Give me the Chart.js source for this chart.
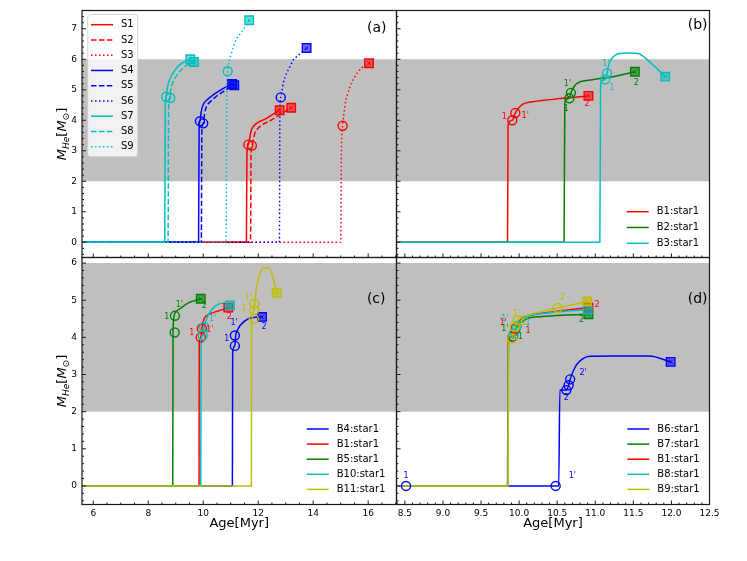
<!DOCTYPE html>
<html>
<head>
<meta charset="utf-8">
<title>Helium core mass vs age</title>
<script src="https://cdn.jsdelivr.net/npm/chart.js@4.4.1/dist/chart.umd.min.js"></script>
<style>
  html, body { margin: 0; padding: 0; background: #fff; }
  #fig { position: relative; width: 747px; height: 561px; }
  #fig canvas { position: absolute; left: 0; top: 0; }
</style>
</head>
<body>
<div id="fig">
  <canvas id="pa" width="747" height="561"></canvas>
  <canvas id="pb" width="747" height="561"></canvas>
  <canvas id="pc" width="747" height="561"></canvas>
  <canvas id="pd" width="747" height="561"></canvas>
</div>
<script>
// ---------- colours (matplotlib single-letter colours) ----------
const RED = '#ff0000', BLUE = '#0000ff', GREEN = '#008000', CYAN = '#00bfbf', OLIVE = '#bfbf00';
const INK = '#1a1a1a';
const BAND_COLOR = '#bfbfbf';
const DASHED = [5.5, 2.4], DOTTED = [1.5, 2.5];

// ---------- axes / ticks ----------
const X_TICKS_LEFT = [6, 8, 10, 12, 14, 16];
const X_TICKS_RIGHT = [8.5, 9.0, 9.5, 10.0, 10.5, 11.0, 11.5, 12.0, 12.5];
const Y_TICKS_TOP = [0, 1, 2, 3, 4, 5, 6, 7];
const Y_TICKS_BOTTOM = [0, 1, 2, 3, 4, 5, 6];
const BAND_MHE = [2, 6];   // grey band in M_He

// ---------- panel (a): single stars ----------
const S1_AGE = [5.5, 11.57, 11.59, 11.64, 11.70, 11.74, 11.80, 12.30, 12.78];
const S1_MHE = [0, 0, 2.90, 3.20, 3.45, 3.65, 3.77, 4.06, 4.33];
const S2_AGE = [5.5, 11.72, 11.74, 11.77, 11.83, 11.88, 11.93, 12.50, 13.20];
const S2_MHE = [0, 0, 2.90, 3.17, 3.40, 3.58, 3.67, 4.02, 4.41];
const S3_AGE = [5.5, 15.00, 15.03, 15.07, 15.15, 15.34, 15.64, 15.85, 16.03];
const S3_MHE = [0, 0, 3.20, 3.82, 4.45, 5.10, 5.59, 5.78, 5.87];
const S4_AGE = [5.5, 9.83, 9.85, 9.88, 9.93, 10.00, 10.15, 10.36, 10.70, 11.05];
const S4_MHE = [0, 0, 3.70, 3.97, 4.30, 4.52, 4.68, 4.83, 5.03, 5.19];
const S5_AGE = [5.5, 9.93, 9.95, 10.00, 10.05, 10.12, 10.27, 10.47, 10.80, 11.13];
const S5_MHE = [0, 0, 3.65, 3.90, 4.22, 4.45, 4.62, 4.78, 4.98, 5.15];
const S6_AGE = [5.5, 12.77, 12.79, 12.82, 12.91, 13.03, 13.15, 13.27, 13.46, 13.76];
const S6_MHE = [0, 0, 4.40, 4.75, 5.21, 5.54, 5.75, 5.97, 6.13, 6.37];
const S7_AGE = [5.5, 8.60, 8.62, 8.65, 8.69, 8.74, 8.85, 8.97, 9.12, 9.27, 9.53];
const S7_MHE = [0, 0, 4.50, 4.77, 5.05, 5.25, 5.47, 5.64, 5.80, 5.90, 6.00];
const S8_AGE = [5.5, 8.72, 8.74, 8.78, 8.82, 8.87, 8.98, 9.10, 9.25, 9.40, 9.66];
const S8_MHE = [0, 0, 4.45, 4.74, 5.00, 5.18, 5.38, 5.55, 5.70, 5.80, 5.92];
const S9_AGE = [5.5, 10.83, 10.86, 10.89, 10.93, 11.00, 11.09, 11.22, 11.40, 11.53, 11.67];
const S9_MHE = [0, 0, 5.20, 5.61, 5.90, 6.12, 6.40, 6.68, 6.90, 7.08, 7.28];

const S1_RINGS = [[11.64, 3.20]], S1_END = [12.78, 4.33];
const S2_RINGS = [[11.77, 3.17]], S2_END = [13.20, 4.41];
const S3_RINGS = [[15.07, 3.82]], S3_END = [16.03, 5.87];
const S4_RINGS = [[9.88, 3.97]],  S4_END = [11.05, 5.19];
const S5_RINGS = [[10.00, 3.90]], S5_END = [11.13, 5.15];
const S6_RINGS = [[12.82, 4.75]], S6_END = [13.76, 6.37];
const S7_RINGS = [[8.65, 4.77]],  S7_END = [9.53, 6.00];
const S8_RINGS = [[8.80, 4.73]],  S8_END = [9.66, 5.91];
const S9_RINGS = [[10.89, 5.61]], S9_END = [11.67, 7.28];

// ---------- binaries, star1 ----------
const B1_AGE = [5.5, 9.848, 9.855, 9.91, 9.95, 10.00, 10.05, 10.18, 10.58, 10.91];
const B1_MHE = [0, 0, 3.85, 4.00, 4.24, 4.42, 4.53, 4.61, 4.72, 4.80];
const B2_AGE = [5.5, 10.59, 10.60, 10.66, 10.68, 10.72, 10.76, 10.93, 11.23, 11.52];
const B2_MHE = [0, 0, 4.60, 4.72, 4.90, 5.10, 5.21, 5.32, 5.43, 5.59];
const B3_AGE = [5.5, 11.06, 11.07, 11.13, 11.155, 11.17, 11.19, 11.26, 11.32, 11.45, 11.56, 11.76, 11.92];
const B3_MHE = [0, 0, 5.20, 5.34, 5.54, 5.75, 5.92, 6.13, 6.19, 6.21, 6.19, 5.81, 5.43];
const B4_AGE = [5.5, 11.06, 11.07, 11.15, 11.18, 11.25, 11.34, 11.64, 11.90, 12.14];
const B4_MHE = [0, 0, 3.60, 3.77, 4.05, 4.20, 4.32, 4.50, 4.54, 4.55];
const B5_AGE = [5.5, 8.89, 8.90, 8.91, 8.94, 9.00, 9.15, 9.46, 9.91];
const B5_MHE = [0, 0, 3.90, 4.35, 4.58, 4.68, 4.77, 4.93, 5.04];
const B6_AGE = [8.515, 10.48, 10.52, 10.535, 10.62, 10.65, 10.67, 10.75, 10.84, 10.93, 11.20, 11.71, 11.99];
const B6_MHE = [0, 0, 0, 2.58, 2.58, 2.71, 2.87, 3.25, 3.43, 3.49, 3.50, 3.50, 3.34];
const B7_AGE = [5.5, 9.85, 9.86, 9.92, 9.95, 9.98, 10.05, 10.10, 10.30, 10.60, 10.91];
const B7_MHE = [0, 0, 3.90, 4.00, 4.18, 4.32, 4.43, 4.50, 4.56, 4.60, 4.62];
const B8_AGE = [5.5, 9.85, 9.86, 9.93, 9.97, 10.02, 10.10, 10.30, 10.60, 10.90];
const B8_MHE = [0, 0, 3.90, 4.10, 4.30, 4.45, 4.56, 4.64, 4.70, 4.74];
const B9_AGE = [5.5, 9.856, 9.86, 9.91, 9.944, 9.98, 10.10, 10.30, 10.504, 10.70, 10.893];
const B9_MHE = [0, 0, 3.90, 3.98, 4.28, 4.46, 4.59, 4.70, 4.79, 4.88, 4.97];
const B10_AGE = [5.5, 9.91, 9.92, 9.98, 10.03, 10.10, 10.24, 10.45, 10.70, 10.99];
const B10_MHE = [0, 0, 3.80, 4.05, 4.28, 4.45, 4.68, 4.85, 4.92, 4.86];
const B11_AGE = [5.5, 11.75, 11.76, 11.80, 11.84, 11.88, 11.94, 12.06, 12.21, 12.40, 12.55, 12.67];
const B11_MHE = [0, 0, 4.40, 4.55, 4.74, 4.95, 5.35, 5.71, 5.87, 5.87, 5.58, 5.20];

const B1_RINGS = [[9.91, 4.00], [9.95, 4.24]],    B1_END = [10.91, 4.80];
const B2_RINGS = [[10.66, 4.72], [10.68, 4.90]],  B2_END = [11.52, 5.59];
const B3_RINGS = [[11.13, 5.34], [11.155, 5.54]], B3_END = [11.92, 5.43];
const B4_RINGS = [[11.15, 3.77], [11.15, 4.05]],  B4_END = [12.14, 4.55];
const B5_RINGS = [[8.96, 4.13], [8.97, 4.58]],    B5_END = [9.91, 5.04];
const B6_RINGS = [[8.515, 0], [10.48, 0], [10.62, 2.58], [10.65, 2.71], [10.67, 2.87]], B6_END = [11.99, 3.34];
const B7_RINGS = [[9.92, 4.02], [9.95, 4.22]],    B7_END = [10.91, 4.62];
const B8_RINGS = [[9.93, 4.10], [9.97, 4.30]],    B8_END = [10.90, 4.74];
const B9_RINGS = [[9.91, 3.98], [9.944, 4.28], [9.98, 4.46], [10.504, 4.79]], B9_END = [10.893, 4.97];
const B10_RINGS = [[9.98, 4.05], [10.03, 4.28]],  B10_END = [10.97, 4.86];
const B11_RINGS = [[11.84, 4.50], [11.86, 4.74], [11.86, 4.90]], B11_END = [12.67, 5.20];

// ---------- phase labels (text, age, M_He, colour) ----------
const NOTES_B = [
  ['1', 9.804, 4.12, RED], ["1'", 10.08, 4.15, RED], ['2', 10.892, 4.535, RED],
  ['1', 10.62, 4.37, GREEN], ["1'", 10.635, 5.19, GREEN], ['2', 11.54, 5.24, GREEN],
  ["1'", 11.138, 5.86, CYAN], ['1', 11.22, 5.07, CYAN]
];
const NOTES_C = [
  ['1', 10.86, 3.95, BLUE], ["1'", 11.12, 4.38, BLUE], ['2', 12.21, 4.27, BLUE],
  ['1', 9.58, 4.13, RED], ["1'", 10.24, 4.19, RED], ['2', 10.95, 4.545, RED],
  ["1'", 10.34, 4.50, CYAN],
  ['1', 8.67, 4.55, GREEN], ["1'", 9.13, 4.88, GREEN], ['2', 10.04, 4.84, GREEN],
  ["1'", 11.64, 5.07, OLIVE], ['1', 11.48, 4.76, OLIVE]
];
const NOTES_D = [
  ['1', 8.515, 0.27, BLUE], ["1'", 10.70, 0.27, BLUE], ['2', 10.62, 2.37, BLUE], ["2'", 10.84, 3.04, BLUE],
  ['2', 10.57, 5.055, OLIVE], ['2', 11.023, 4.86, RED], ['2', 10.819, 4.456, GREEN],
  ["1'", 9.966, 4.636, OLIVE], ["1'", 9.813, 4.502, CYAN], ["1'", 9.79, 4.395, RED], ["1'", 9.813, 4.234, GREEN],
  ['1', 10.066, 4.395, OLIVE], ['1', 10.118, 4.395, CYAN], ['1', 10.118, 4.17, RED], ['1', 10.019, 4.01, GREEN]
];

Chart.defaults.font.family = '"DejaVu Sans", sans-serif';
Chart.defaults.color = '#000';

function withAlpha(hex, a) {
  const n = parseInt(hex.slice(1), 16);
  return `rgba(${(n >> 16) & 255}, ${(n >> 8) & 255}, ${n & 255}, ${a})`;
}
const pts = list => list.map(p => ({ x: p[0], y: p[1] }));

// one track -> line dataset + marker datasets
function track(label, age, mhe, color, dash, rings, end) {
  return { label, age, mhe, color, dash: dash || [], rings, end };
}
function buildDatasets(tracks) {
  const sets = [];
  tracks.forEach((t, i) => {
    sets.push({
      label: t.label, order: 100 - i,
      data: t.age.map((a, k) => ({ x: a, y: t.mhe[k] })),
      borderColor: t.color, borderWidth: 1.5, borderDash: t.dash,
      pointRadius: 0, fill: false, cubicInterpolationMode: 'monotone', clip: 0
    });
  });
  tracks.forEach((t, i) => {
    sets.push({
      order: 50 - 3 * i, showLine: false, data: pts(t.rings),
      pointStyle: 'circle', pointRadius: 4.5, pointBorderWidth: 1.4,
      pointBorderColor: t.color, pointBackgroundColor: 'rgba(255,255,255,0)'
    });
    sets.push({
      order: 49 - 3 * i, showLine: false, data: pts([t.end]),
      pointStyle: 'rect', pointRadius: 6, pointBorderWidth: 1.4,
      pointBorderColor: t.color, pointBackgroundColor: withAlpha(t.color, 0.55)
    });
    sets.push({
      order: 48 - 3 * i, showLine: false, data: pts([t.end]),
      pointStyle: 'crossRot', pointRadius: 2.6, pointBorderWidth: 1,
      pointBorderColor: t.color
    });
  });
  return sets;
}

function minorTicks(min, max, step, majors) {
  const out = [];
  for (let k = Math.ceil(min / step - 1e-9); k * step <= max + 1e-9; k++) {
    const v = +(k * step).toFixed(6);
    if (!majors.some(m => Math.abs(m - v) < 1e-6)) out.push(v);
  }
  return out;
}

// panel layout (figure pixels: left column 82..396.5, right 396.5..709.5, rows 10.5..257.5..504.5)
const PANELS = {
  pa: {
    xMin: 5.59, xMax: 17.03, yMin: -0.5, yMax: 7.6, xMajor: X_TICKS_LEFT, xMinor: 0.5, yMajor: Y_TICKS_TOP, yMinor: 0.2,
    xLabels: false, yLabels: true, pad: { left: 0, top: 10.5, right: 350.5, bottom: 303.5 }, xAxisH: 0, yAxisW: 82,
    tag: '(a)', tagDx: -10, tagDy: 18, yTitle: true,
    key: { x: 91, y: 24.7, dy: 15.25, box: [87.7, 14.5, 50, 142.2] }, notes: [],
    tracks: [
      track('S1', S1_AGE, S1_MHE, RED, null, S1_RINGS, S1_END),
      track('S2', S2_AGE, S2_MHE, RED, DASHED, S2_RINGS, S2_END),
      track('S3', S3_AGE, S3_MHE, RED, DOTTED, S3_RINGS, S3_END),
      track('S4', S4_AGE, S4_MHE, BLUE, null, S4_RINGS, S4_END),
      track('S5', S5_AGE, S5_MHE, BLUE, DASHED, S5_RINGS, S5_END),
      track('S6', S6_AGE, S6_MHE, BLUE, DOTTED, S6_RINGS, S6_END),
      track('S7', S7_AGE, S7_MHE, CYAN, null, S7_RINGS, S7_END),
      track('S8', S8_AGE, S8_MHE, CYAN, DASHED, S8_RINGS, S8_END),
      track('S9', S9_AGE, S9_MHE, CYAN, DOTTED, S9_RINGS, S9_END)
    ]
  },
  pb: {
    xMin: 8.39, xMax: 12.5, yMin: -0.5, yMax: 7.6, xMajor: X_TICKS_RIGHT, xMinor: 0.1, yMajor: Y_TICKS_TOP, yMinor: 0.2,
    xLabels: false, yLabels: false, pad: { left: 396.5, top: 10.5, right: 37.5, bottom: 303.5 }, xAxisH: 0, yAxisW: 0,
    tag: '(b)', tagDx: -2, tagDy: 14.5, yTitle: false,
    key: { x: 626.7, y: 211.7, dy: 15.8 }, notes: NOTES_B,
    tracks: [
      track('B1:star1', B1_AGE, B1_MHE, RED, null, B1_RINGS, B1_END),
      track('B2:star1', B2_AGE, B2_MHE, GREEN, null, B2_RINGS, B2_END),
      track('B3:star1', B3_AGE, B3_MHE, CYAN, null, B3_RINGS, B3_END)
    ]
  },
  pc: {
    xMin: 5.59, xMax: 17.03, yMin: -0.5, yMax: 6.15, xMajor: X_TICKS_LEFT, xMinor: 0.5, yMajor: Y_TICKS_BOTTOM, yMinor: 0.2,
    xLabels: true, yLabels: true, pad: { left: 0, top: 257.5, right: 350.5, bottom: 29.5 }, xAxisH: 27, yAxisW: 82,
    tag: '(c)', tagDx: -11, tagDy: 42, yTitle: true,
    key: { x: 306.7, y: 429, dy: 15.1 }, notes: NOTES_C,
    tracks: [
      track('B4:star1', B4_AGE, B4_MHE, BLUE, null, B4_RINGS, B4_END),
      track('B1:star1', B1_AGE, B1_MHE, RED, null, B1_RINGS, B1_END),
      track('B5:star1', B5_AGE, B5_MHE, GREEN, null, B5_RINGS, B5_END),
      track('B10:star1', B10_AGE, B10_MHE, CYAN, null, B10_RINGS, B10_END),
      track('B11:star1', B11_AGE, B11_MHE, OLIVE, null, B11_RINGS, B11_END)
    ]
  },
  pd: {
    xMin: 8.39, xMax: 12.5, yMin: -0.5, yMax: 6.15, xMajor: X_TICKS_RIGHT, xMinor: 0.1, yMajor: Y_TICKS_BOTTOM, yMinor: 0.2,
    xLabels: true, yLabels: false, pad: { left: 396.5, top: 257.5, right: 37.5, bottom: 29.5 }, xAxisH: 27, yAxisW: 0,
    tag: '(d)', tagDx: -2, tagDy: 42, yTitle: false,
    key: { x: 627.3, y: 429, dy: 15.1 }, notes: NOTES_D,
    tracks: [
      track('B6:star1', B6_AGE, B6_MHE, BLUE, null, B6_RINGS, B6_END),
      track('B7:star1', B7_AGE, B7_MHE, GREEN, null, B7_RINGS, B7_END),
      track('B1:star1', B1_AGE, B1_MHE, RED, null, B1_RINGS, B1_END),
      track('B8:star1', B8_AGE, B8_MHE, CYAN, null, B8_RINGS, B8_END),
      track('B9:star1', B9_AGE, B9_MHE, OLIVE, null, B9_RINGS, B9_END)
    ]
  }
};

// grey band behind the tracks
const bandPlugin = {
  id: 'band',
  beforeDatasetsDraw(chart) {
    const { ctx, chartArea: a, scales: { y } } = chart;
    const top = y.getPixelForValue(BAND_MHE[1]), bot = y.getPixelForValue(BAND_MHE[0]);
    ctx.save();
    ctx.fillStyle = BAND_COLOR;
    ctx.fillRect(a.left, top, a.right - a.left, bot - top);
    ctx.restore();
  }
};

// M_He[M_sun] with italic letters and subscripts
function drawMassTitle(ctx, cx, cy) {
  const parts = [
    ['M', 'italic 13px "DejaVu Sans"', 0], ['He', 'italic 9px "DejaVu Sans"', 3],
    ['[', '13px "DejaVu Sans"', 0], ['M', 'italic 13px "DejaVu Sans"', 0],
    ['\u2299', '9px "DejaVu Sans"', 3], [']', '13px "DejaVu Sans"', 0]
  ];
  ctx.save();
  ctx.translate(cx, cy);
  ctx.rotate(-Math.PI / 2);
  ctx.fillStyle = '#000';
  ctx.textBaseline = 'alphabetic';
  ctx.textAlign = 'left';
  let total = 0;
  parts.forEach(p => { ctx.font = p[1]; total += ctx.measureText(p[0]).width; });
  let x = -total / 2;
  parts.forEach(p => { ctx.font = p[1]; ctx.fillText(p[0], x, p[2]); x += ctx.measureText(p[0]).width; });
  ctx.restore();
}

// frame, inward ticks, panel tag
const framePlugin = {
  id: 'frame',
  afterDatasetsDraw(chart) {
    const p = PANELS[chart.canvas.id];
    const { ctx, chartArea: a, scales: { x, y } } = chart;
    ctx.save();
    ctx.strokeStyle = INK;
    ctx.lineWidth = 1;
    ctx.beginPath();
    const xt = (vals, len) => vals.forEach(v => {
      const px = x.getPixelForValue(v);
      ctx.moveTo(px, a.bottom); ctx.lineTo(px, a.bottom - len);
    });
    const yt = (vals, len) => vals.forEach(v => {
      const py = y.getPixelForValue(v);
      ctx.moveTo(a.left, py); ctx.lineTo(a.left + len, py);
    });
    xt(p.xMajor, 4); xt(minorTicks(p.xMin, p.xMax, p.xMinor, p.xMajor), 2);
    yt(p.yMajor, 4); yt(minorTicks(p.yMin, p.yMax, p.yMinor, p.yMajor), 2);
    ctx.stroke();
    ctx.lineWidth = 1.2;
    ctx.strokeRect(a.left, a.top, a.right - a.left, a.bottom - a.top);
    ctx.fillStyle = '#000';
    ctx.font = '14px "DejaVu Sans"';
    ctx.textAlign = 'right';
    ctx.textBaseline = 'middle';
    ctx.fillText(p.tag, a.right + p.tagDx, a.top + p.tagDy);
    ctx.restore();
    if (p.yTitle) drawMassTitle(ctx, 65.5, (a.top + a.bottom) / 2);
  }
};

// legend and phase labels
const keyPlugin = {
  id: 'key',
  afterDraw(chart) {
    const p = PANELS[chart.canvas.id];
    const k = p.key;
    const { ctx, scales: { x, y } } = chart;
    ctx.save();
    if (k.box) {
      const [bx, by, bw, bh] = k.box;
      ctx.beginPath();
      if (ctx.roundRect) ctx.roundRect(bx, by, bw, bh, 3); else ctx.rect(bx, by, bw, bh);
      ctx.fillStyle = 'rgba(255,255,255,0.8)';
      ctx.fill();
      ctx.strokeStyle = 'rgba(204,204,204,0.8)';
      ctx.lineWidth = 1;
      ctx.stroke();
    }
    chart.data.datasets.filter(d => d.label).forEach((d, i) => {
      const yy = k.y + i * k.dy;
      ctx.strokeStyle = d.borderColor;
      ctx.lineWidth = 1.5;
      ctx.setLineDash(d.borderDash);
      ctx.beginPath();
      ctx.moveTo(k.x, yy); ctx.lineTo(k.x + 22, yy);
      ctx.stroke();
      ctx.setLineDash([]);
      ctx.fillStyle = '#000';
      ctx.font = '10px "DejaVu Sans"';
      ctx.textAlign = 'left';
      ctx.textBaseline = 'middle';
      ctx.fillText(d.label, k.x + 30, yy);
    });
    ctx.font = '8px "DejaVu Sans"';
    ctx.textAlign = 'center';
    ctx.textBaseline = 'middle';
    p.notes.forEach(([t, xv, yv, c]) => {
      ctx.fillStyle = c;
      ctx.fillText(t, x.getPixelForValue(xv), y.getPixelForValue(yv));
    });
    ctx.restore();
  }
};

function buildPanel(id) {
  const p = PANELS[id];
  return new Chart(document.getElementById(id), {
    type: 'line',
    data: { datasets: buildDatasets(p.tracks) },
    options: {
      responsive: false, animation: false, events: [],
      layout: { padding: p.pad },
      scales: {
        x: {
          type: 'linear', position: 'bottom', min: p.xMin, max: p.xMax,
          grid: { display: false, drawTicks: false }, border: { display: false },
          afterBuildTicks: s => { s.ticks = p.xMajor.map(v => ({ value: v })); },
          afterFit: s => { s.height = p.xAxisH; s.paddingLeft = s.paddingRight = s.paddingTop = s.paddingBottom = 0; },
          ticks: {
            display: p.xLabels, autoSkip: false, maxRotation: 0, minRotation: 0, padding: 3.5,
            font: { size: 9 }, color: '#000',
            callback: v => (p.xMinor < 0.5 ? v.toFixed(1) : String(v))
          },
          title: { display: p.xLabels, text: 'Age[Myr]', font: { size: 13 }, color: '#000', padding: { top: 0, bottom: 0 } }
        },
        y: {
          type: 'linear', position: 'left', min: p.yMin, max: p.yMax,
          grid: { display: false, drawTicks: false }, border: { display: false },
          afterBuildTicks: s => { s.ticks = p.yMajor.map(v => ({ value: v })); },
          afterFit: s => { s.width = p.yAxisW; s.paddingLeft = s.paddingRight = s.paddingTop = s.paddingBottom = 0; },
          ticks: { display: p.yLabels, padding: 5, font: { size: 9 }, color: '#000', callback: v => String(v) }
        }
      },
      plugins: { legend: { display: false }, tooltip: { enabled: false }, title: { display: false } }
    },
    plugins: [bandPlugin, framePlugin, keyPlugin]
  });
}

['pa', 'pb', 'pc', 'pd'].forEach(buildPanel);
</script>
</body>
</html>
